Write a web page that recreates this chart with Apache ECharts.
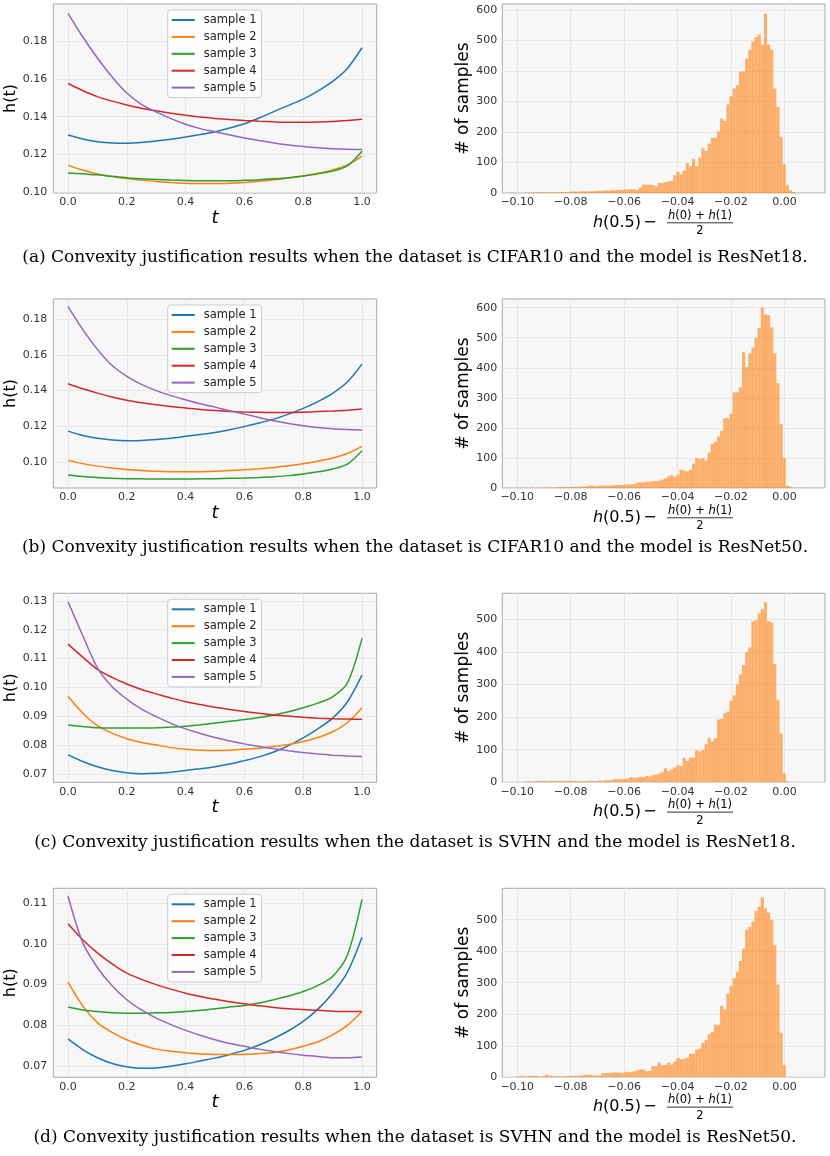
<!DOCTYPE html>
<html>
<head>
<meta charset="utf-8">
<script src="https://cdn.jsdelivr.net/npm/echarts@6/dist/echarts.min.js"></script>
<style>
  html, body { margin: 0; padding: 0; background: #fff; }
  #chart { width: 830px; height: 1156px; }
</style>
</head>
<body>
<div id="chart"></div>
<script>
// ---- data ----
const tValues = [0, 0.05, 0.1, 0.15, 0.2, 0.25, 0.3, 0.35, 0.4, 0.45, 0.5,
  0.55, 0.6, 0.65, 0.7, 0.75, 0.8, 0.85, 0.9, 0.95, 1.0]
const sampleNames = ['sample 1', 'sample 2', 'sample 3', 'sample 4', 'sample 5']

// (a) CIFAR10 / ResNet18
const hA1 = [0.1303, 0.1282, 0.1268, 0.1261, 0.1260, 0.1264, 0.1272, 0.1281, 0.1293, 0.1306, 0.1320,
  0.1340, 0.1363, 0.1393, 0.1427, 0.1460, 0.1493, 0.1535, 0.1586, 0.1655, 0.1764]
const hA2 = [0.1143, 0.1118, 0.1097, 0.1084, 0.1073, 0.1065, 0.1058, 0.1053, 0.1049, 0.1047, 0.1047,
  0.1049, 0.1053, 0.1059, 0.1067, 0.1076, 0.1087, 0.1101, 0.1119, 0.1145, 0.1192]
const hA3 = [0.1103, 0.1098, 0.1093, 0.1085, 0.1078, 0.1072, 0.1068, 0.1065, 0.1063, 0.1062, 0.1062,
  0.1062, 0.1064, 0.1067, 0.1072, 0.1078, 0.1087, 0.1098, 0.1113, 0.1140, 0.1218]
const hA4 = [0.1575, 0.1538, 0.1506, 0.1482, 0.1462, 0.1445, 0.1431, 0.1418, 0.1407, 0.1398, 0.1391,
  0.1385, 0.1380, 0.1376, 0.1373, 0.1371, 0.1371, 0.1372, 0.1375, 0.1380, 0.1386]
const hA5 = [0.1946, 0.1822, 0.1710, 0.1610, 0.1525, 0.1465, 0.1425, 0.1390, 0.1360, 0.1337, 0.1320,
  0.1303, 0.1288, 0.1274, 0.1261, 0.1251, 0.1243, 0.1236, 0.1231, 0.1228, 0.1227]
// (b) CIFAR10 / ResNet50
const hB1 = [0.1174, 0.1150, 0.1134, 0.1125, 0.1121, 0.1122, 0.1127, 0.1135, 0.1145, 0.1155, 0.1167,
  0.1182, 0.1200, 0.1219, 0.1241, 0.1269, 0.1301, 0.1339, 0.1385, 0.1448, 0.1548]
const hB2 = [0.1011, 0.0993, 0.0979, 0.0968, 0.0960, 0.0954, 0.0950, 0.0948, 0.0947, 0.0948, 0.0950,
  0.0954, 0.0959, 0.0965, 0.0972, 0.0981, 0.0992, 0.1006, 0.1024, 0.1049, 0.1089]
const hB3 = [0.0929, 0.0921, 0.0915, 0.0911, 0.0909, 0.0908, 0.0907, 0.0907, 0.0907, 0.0908, 0.0909,
  0.0911, 0.0913, 0.0916, 0.0920, 0.0926, 0.0935, 0.0947, 0.0963, 0.0990, 0.1065]
const hB4 = [0.1438, 0.1410, 0.1386, 0.1364, 0.1346, 0.1332, 0.1321, 0.1311, 0.1303, 0.1295, 0.1289,
  0.1284, 0.1281, 0.1279, 0.1278, 0.1278, 0.1280, 0.1283, 0.1286, 0.1290, 0.1297]
const hB5 = [0.1869, 0.1742, 0.1630, 0.1540, 0.1480, 0.1435, 0.1400, 0.1372, 0.1349, 0.1327, 0.1308,
  0.1288, 0.1269, 0.1250, 0.1232, 0.1217, 0.1204, 0.1194, 0.1187, 0.1183, 0.1180]
// (c) SVHN / ResNet18
const hC1 = [0.0767, 0.0744, 0.0726, 0.0713, 0.0705, 0.0702, 0.0703, 0.0707, 0.0713, 0.0719, 0.0726,
  0.0735, 0.0747, 0.0760, 0.0777, 0.0799, 0.0826, 0.0857, 0.0894, 0.0950, 0.1043]
const hC2 = [0.0970, 0.0912, 0.0868, 0.0842, 0.0823, 0.0810, 0.0801, 0.0792, 0.0786, 0.0783, 0.0782,
  0.0783, 0.0786, 0.0790, 0.0796, 0.0803, 0.0813, 0.0827, 0.0847, 0.0878, 0.0930]
const hC3 = [0.0870, 0.0865, 0.0861, 0.0860, 0.0860, 0.0860, 0.0861, 0.0863, 0.0866, 0.0871, 0.0877,
  0.0883, 0.0889, 0.0896, 0.0905, 0.0916, 0.0930, 0.0946, 0.0968, 0.1015, 0.1170]
const hC4 = [0.1150, 0.1105, 0.1063, 0.1035, 0.1012, 0.0993, 0.0978, 0.0964, 0.0951, 0.0941, 0.0932,
  0.0924, 0.0917, 0.0911, 0.0905, 0.0901, 0.0897, 0.0894, 0.0892, 0.0891, 0.0890]
const hC5 = [0.1297, 0.1180, 0.1068, 0.1003, 0.0960, 0.0925, 0.0899, 0.0876, 0.0857, 0.0841, 0.0827,
  0.0815, 0.0805, 0.0796, 0.0788, 0.0781, 0.0775, 0.0770, 0.0766, 0.0763, 0.0761]
// (d) SVHN / ResNet50
const hD1 = [0.0767, 0.0741, 0.0721, 0.0707, 0.0699, 0.0695, 0.0696, 0.0700, 0.0706, 0.0713, 0.0720,
  0.0729, 0.0739, 0.0752, 0.0768, 0.0787, 0.0810, 0.0840, 0.0879, 0.0930, 0.1016]
const hD2 = [0.0906, 0.0848, 0.0807, 0.0783, 0.0765, 0.0752, 0.0742, 0.0737, 0.0733, 0.0730, 0.0729,
  0.0729, 0.0729, 0.0731, 0.0734, 0.0740, 0.0749, 0.0760, 0.0777, 0.0800, 0.0834]
const hD3 = [0.0845, 0.0838, 0.0834, 0.0831, 0.0830, 0.0830, 0.0831, 0.0832, 0.0834, 0.0837, 0.0841,
  0.0845, 0.0849, 0.0855, 0.0863, 0.0872, 0.0883, 0.0898, 0.0920, 0.0972, 0.1109]
const hD4 = [0.1049, 0.1010, 0.0978, 0.0951, 0.0928, 0.0913, 0.0900, 0.0889, 0.0879, 0.0871, 0.0864,
  0.0858, 0.0853, 0.0848, 0.0844, 0.0841, 0.0839, 0.0837, 0.0835, 0.0834, 0.0834]
const hD5 = [0.1117, 0.1003, 0.0942, 0.0897, 0.0863, 0.0838, 0.0818, 0.0802, 0.0788, 0.0776, 0.0765,
  0.0756, 0.0749, 0.0742, 0.0736, 0.0731, 0.0727, 0.0724, 0.0721, 0.0721, 0.0723]

// histogram of h(0.5) - (h(0)+h(1))/2, bins of equal width starting at binStart
const binStart = -0.1001
const binWidth = 0.00117
const countsA = [
  0, 0, 0, 1, 1, 2, 2, 2, 3, 3,
  2, 3, 2, 3, 4, 3, 3, 5, 5, 4,
  6, 5, 6, 5, 6, 7, 8, 7, 9, 8,
  10, 9, 11, 10, 12, 11, 13, 12, 10, 18,
  28, 27, 27, 26, 22, 33, 32, 36, 38, 40,
  58, 69, 61, 74, 98, 88, 112, 88, 116, 148,
  138, 162, 181, 181, 202, 244, 236, 290, 317, 342,
  353, 397, 399, 440, 470, 497, 511, 520, 487, 588,
  487, 470, 342, 282, 184, 94, 27, 9, 3, 0
]
const countsB = [
  0, 0, 1, 0, 2, 0, 0, 1, 0, 2,
  1, 1, 2, 3, 3, 2, 3, 4, 4, 4,
  5, 5, 6, 8, 7, 6, 8, 8, 9, 8,
  9, 10, 10, 10, 11, 12, 12, 13, 18, 19,
  19, 21, 21, 23, 23, 24, 28, 32, 39, 43,
  37, 44, 61, 58, 55, 61, 81, 100, 96, 100,
  92, 118, 147, 155, 172, 190, 232, 232, 247, 318,
  318, 335, 452, 402, 448, 467, 500, 533, 600, 578,
  575, 535, 448, 349, 213, 100, 8, 4, 0, 0
]
const countsC = [
  1, 1, 2, 3, 2, 3, 4, 4, 5, 3,
  4, 5, 4, 5, 3, 4, 5, 4, 5, 3,
  4, 4, 3, 5, 4, 4, 6, 5, 7, 6,
  8, 11, 9, 9, 10, 12, 16, 14, 15, 17,
  16, 19, 18, 22, 24, 27, 31, 43, 34, 40,
  46, 52, 50, 75, 65, 75, 76, 98, 95, 100,
  117, 137, 125, 135, 193, 195, 212, 217, 250, 267,
  300, 331, 360, 400, 414, 494, 497, 518, 531, 552,
  495, 490, 363, 252, 150, 28, 3, 0, 0, 0
]
const countsD = [
  3, 5, 3, 4, 5, 4, 5, 3, 4, 8,
  5, 4, 3, 3, 3, 4, 4, 4, 5, 5,
  6, 7, 8, 8, 6, 6, 6, 14, 14, 14,
  15, 15, 15, 14, 16, 18, 17, 19, 22, 25,
  25, 19, 21, 36, 35, 47, 38, 39, 46, 41,
  50, 61, 57, 59, 62, 75, 75, 88, 91, 109,
  118, 137, 144, 167, 167, 226, 215, 266, 289, 314,
  335, 369, 409, 469, 478, 494, 528, 541, 571, 536,
  523, 499, 419, 294, 141, 38, 0, 0, 0, 0
]

// tick labels
const tTicks = [0, 0.2, 0.4, 0.6, 0.8, 1.0]
const hTicksA = [0.10, 0.12, 0.14, 0.16, 0.18]
const hTicksB = [0.10, 0.12, 0.14, 0.16, 0.18]
const hTicksC = [0.07, 0.08, 0.09, 0.10, 0.11, 0.12, 0.13]
const hTicksD = [0.07, 0.08, 0.09, 0.10, 0.11]
const diffTicks = [-0.10, -0.08, -0.06, -0.04, -0.02, 0]
const countTicksAB = [0, 100, 200, 300, 400, 500, 600]
const countTicksCD = [0, 100, 200, 300, 400, 500]

const captions = [
  '(a) Convexity justification results when the dataset is CIFAR10 and the model is ResNet18.',
  '(b) Convexity justification results when the dataset is CIFAR10 and the model is ResNet50.',
  '(c) Convexity justification results when the dataset is SVHN and the model is ResNet18.',
  '(d) Convexity justification results when the dataset is SVHN and the model is ResNet50.'
]

// ---- layout ----
const colors = ['#1f77b4', '#ff7f0e', '#2ca02c', '#d62728', '#9467bd']
const rows = [
  {top: 4, curves: [hA1, hA2, hA3, hA4, hA5], hMin: 0.0997, hMax: 0.1995, hTicks: hTicksA, counts: countsA, cMax: 619.6, cTicks: countTicksAB, capY: 258},
  {top: 299, curves: [hB1, hB2, hB3, hB4, hB5], hMin: 0.0857, hMax: 0.1911, hTicks: hTicksB, counts: countsB, cMax: 628.8, cTicks: countTicksAB, capY: 548},
  {top: 593.3, curves: [hC1, hC2, hC3, hC4, hC5], hMin: 0.0672, hMax: 0.1326, hTicks: hTicksC, counts: countsC, cMax: 579.8, cTicks: countTicksCD, capY: 843},
  {top: 888.3, curves: [hD1, hD2, hD3, hD4, hD5], hMin: 0.0673, hMax: 0.1136, hTicks: hTicksD, counts: countsD, cMax: 599.6, cTicks: countTicksCD, capY: 1138}
]
const plotH = 189
const leftX = 53.3, leftW = 323.4
const rightX = 502.3, rightW = 322.7

const labelFont = {fontFamily: 'DejaVu Sans', fontSize: 11, color: '#333'}
const gridLine = {show: true, lineStyle: {color: '#e2e2e2', width: 0.8}}
const fmtMinus = (v) => (v < -1e-9 ? '\u2212' : '') + Math.abs(v).toFixed(2)

const grid = [], xAxis = [], yAxis = [], series = [], legend = [], graphic = []

rows.forEach((row, r) => {
  const base = {show: true, backgroundColor: '#f7f7f7', borderColor: '#a9a9a9', borderWidth: 1, outerBoundsMode: 'none'}
  grid.push(Object.assign({left: leftX, top: row.top, width: leftW, height: plotH}, base))
  grid.push(Object.assign({left: rightX, top: row.top, width: rightW, height: plotH}, base))

  // h(t) panel
  xAxis.push({
    type: 'value', gridIndex: 2 * r, min: -0.05, max: 1.05,
    axisLine: {show: false}, axisTick: {show: false, customValues: tTicks},
    axisLabel: Object.assign({customValues: tTicks, margin: 4, formatter: (v) => v.toFixed(1)}, labelFont),
    splitLine: gridLine,
    name: 't', nameLocation: 'middle', nameGap: 16,
    nameTextStyle: {fontFamily: 'DejaVu Sans', fontStyle: 'italic', fontSize: 18, color: '#000'}
  })
  yAxis.push({
    type: 'value', gridIndex: 2 * r, min: row.hMin, max: row.hMax,
    axisLine: {show: false}, axisTick: {show: false, customValues: row.hTicks},
    axisLabel: Object.assign({customValues: row.hTicks, margin: 6, formatter: (v) => v.toFixed(2)}, labelFont),
    splitLine: gridLine,
    name: 'h(t)', nameLocation: 'middle', nameGap: 33,
    nameTextStyle: {fontFamily: 'DejaVu Sans', fontSize: 16, color: '#000'}
  })
  row.curves.forEach((vals, s) => {
    series.push({
      type: 'line', name: sampleNames[s], xAxisIndex: 2 * r, yAxisIndex: 2 * r,
      data: tValues.map((t, i) => [t, vals[i]]),
      smooth: 0.3, symbol: 'none',
      lineStyle: {color: colors[s], width: 1.5}, itemStyle: {color: colors[s]}
    })
  })
  legend.push({
    data: sampleNames, orient: 'vertical', left: 167.7, top: row.top + 6,
    icon: 'rect', itemWidth: 23, itemHeight: 2, itemGap: 2.9,
    padding: [3, 5, 3, 4], backgroundColor: 'rgba(255,255,255,0.8)',
    borderColor: '#cccccc', borderWidth: 1, borderRadius: 3, selectedMode: false,
    textStyle: {fontFamily: 'DejaVu Sans', fontSize: 11.5, color: '#222', lineHeight: 14, padding: [0, 0, 0, 4]}
  })

  // histogram panel
  xAxis.push({
    type: 'value', gridIndex: 2 * r + 1, min: -0.1056, max: 0.0152,
    axisLine: {show: false}, axisTick: {show: false, customValues: diffTicks},
    axisLabel: Object.assign({customValues: diffTicks, margin: 4, formatter: fmtMinus}, labelFont),
    splitLine: gridLine
  })
  yAxis.push({
    type: 'value', gridIndex: 2 * r + 1, min: 0, max: row.cMax,
    axisLine: {show: false}, axisTick: {show: false, customValues: row.cTicks},
    axisLabel: Object.assign({customValues: row.cTicks, margin: 5}, labelFont),
    splitLine: gridLine,
    name: '# of samples', nameLocation: 'middle', nameGap: 27,
    nameTextStyle: {fontFamily: 'DejaVu Sans', fontSize: 17, color: '#000'}
  })
  series.push({
    type: 'custom', xAxisIndex: 2 * r + 1, yAxisIndex: 2 * r + 1, clip: true,
    data: row.counts.map((c, i) => [binStart + i * binWidth, binStart + (i + 1) * binWidth, c]),
    encode: {x: [0, 1], y: 2},
    renderItem: (params, api) => {
      const p0 = api.coord([api.value(0), api.value(2)])
      const p1 = api.coord([api.value(1), 0])
      return {
        type: 'rect',
        shape: {x: p0[0], y: p0[1], width: p1[0] - p0[0], height: p1[1] - p0[1]},
        style: {fill: 'rgba(255,127,14,0.6)'}
      }
    }
  })

  // x label of the histogram: h(0.5) - (h(0)+h(1))/2
  const B = row.top + plotH
  graphic.push({
    type: 'text', x: 641, y: B + 29.5,
    style: {
      text: '{i|h}{n|(0.5)}', verticalAlign: 'middle', align: 'right',
      rich: {
        i: {fontFamily: 'DejaVu Sans', fontStyle: 'italic', fontSize: 16, fill: '#000'},
        n: {fontFamily: 'DejaVu Sans', fontSize: 16, fill: '#000'}
      }
    }
  })
  graphic.push({
    type: 'text', x: 650, y: B + 29.5,
    style: {text: '\u2212', font: '16px "DejaVu Sans"', fill: '#000', align: 'center', verticalAlign: 'middle'}
  })
  graphic.push({
    type: 'text', x: 700, y: B + 22.7,
    style: {
      text: '{i|h}{n|(0) + }{i|h}{n|(1)}', verticalAlign: 'middle', align: 'center',
      rich: {
        i: {fontFamily: 'DejaVu Sans', fontStyle: 'italic', fontSize: 11.5, fill: '#000'},
        n: {fontFamily: 'DejaVu Sans', fontSize: 11.5, fill: '#000'}
      }
    }
  })
  graphic.push({
    type: 'line', shape: {x1: 667, y1: B + 29.8, x2: 733, y2: B + 29.8},
    style: {stroke: '#000', lineWidth: 0.8}
  })
  graphic.push({
    type: 'text', x: 700, y: B + 38.4,
    style: {text: '2', font: '11.5px "DejaVu Sans"', fill: '#000', align: 'center', verticalAlign: 'middle'}
  })

  graphic.push({
    type: 'text', x: 415, y: row.capY,
    style: {text: captions[r], font: '17px "DejaVu Serif"', fill: '#000', align: 'center', verticalAlign: 'middle'}
  })
})

const chart = echarts.init(document.getElementById('chart'), null, {renderer: 'canvas'})
chart.setOption({
  animation: false,
  backgroundColor: '#fff',
  grid, xAxis, yAxis, series, legend, graphic
})
</script>
</body>
</html>
